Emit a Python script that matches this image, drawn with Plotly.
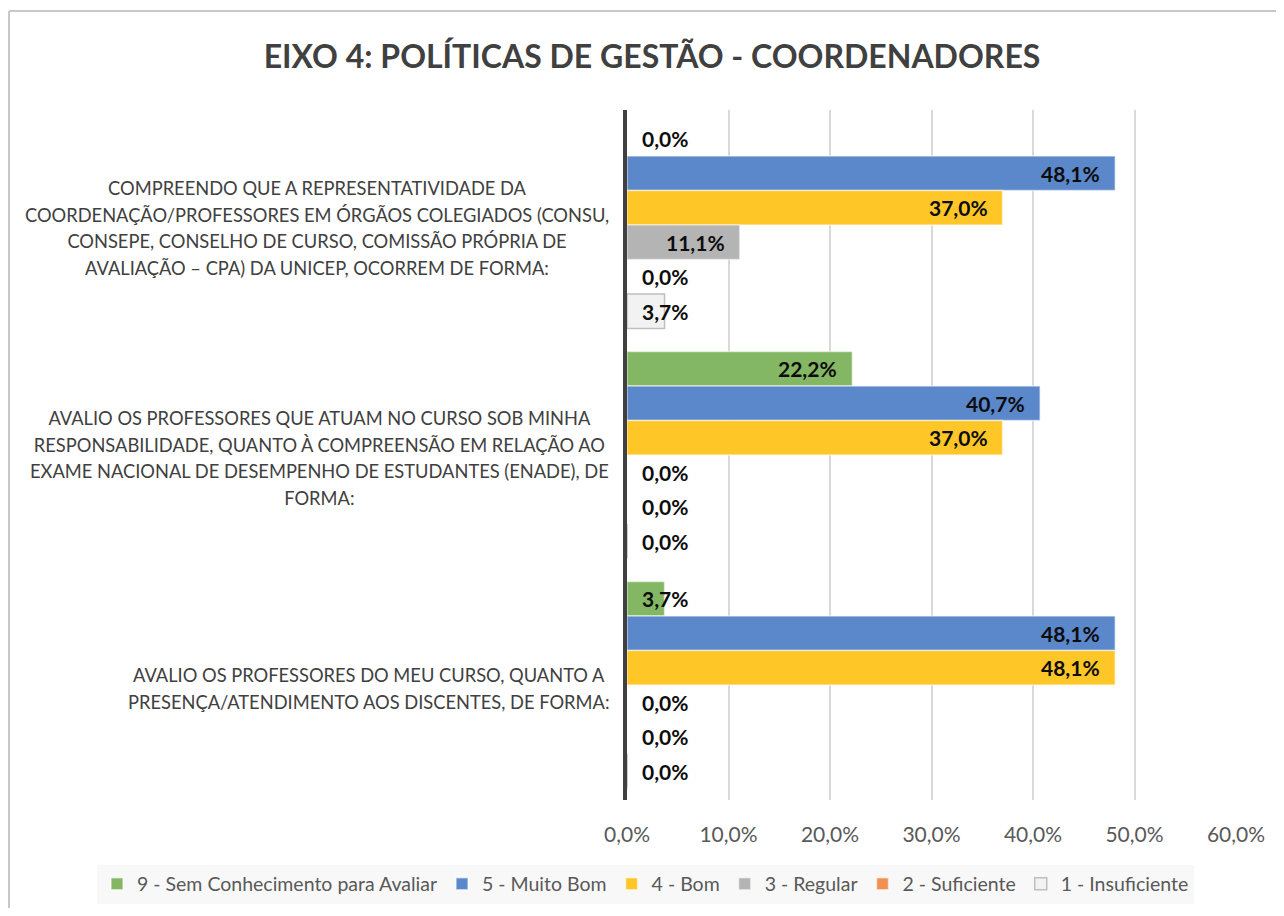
import plotly.graph_objects as go

categories = [
    "COMPREENDO QUE A REPRESENTATIVIDADE DA<br>COORDENAÇÃO/PROFESSORES EM ÓRGÃOS COLEGIADOS (CONSU,<br>CONSEPE, CONSELHO DE CURSO, COMISSÃO PRÓPRIA DE<br>AVALIAÇÃO – CPA) DA UNICEP, OCORREM DE FORMA:",
    "AVALIO OS PROFESSORES QUE ATUAM NO CURSO SOB MINHA<br>RESPONSABILIDADE, QUANTO À COMPREENSÃO EM RELAÇÃO AO<br>EXAME NACIONAL DE DESEMPENHO DE ESTUDANTES (ENADE), DE<br>FORMA:",
    "AVALIO OS PROFESSORES DO MEU CURSO, QUANTO A<br>PRESENÇA/ATENDIMENTO AOS DISCENTES, DE FORMA:",
]

series_names = [
    "9 - Sem Conhecimento para Avaliar",
    "5 - Muito Bom",
    "4 - Bom",
    "3 - Regular",
    "2 - Suficiente",
    "1 - Insuficiente",
]

sem_conhecimento = [0.000, 0.222, 0.037]
muito_bom = [0.481, 0.407, 0.481]
bom = [0.370, 0.370, 0.481]
regular = [0.111, 0.000, 0.000]
suficiente = [0.000, 0.000, 0.000]
insuficiente = [0.037, 0.000, 0.000]

series_values = [sem_conhecimento, muito_bom, bom, regular, suficiente, insuficiente]

x_tick_values = [0.0, 0.1, 0.2, 0.3, 0.4, 0.5, 0.6]

fill_colors = ["#84B763", "#5B87CB", "#FFC627", "#B4B4B4", "#F0914F", "#F2F2F2"]
line_colors = ["rgba(255,255,255,0.55)", "rgba(255,255,255,0.55)", "rgba(255,255,255,0.55)",
               "rgba(255,255,255,0.45)", "rgba(255,255,255,0.55)", "#BFBFBF"]

FONT = "Lato"
BARGAP = 0.1

# The page body has an 8px margin, so the figure is 16px smaller than the window
W, H = 1268, 900
OFF = 8
# plot-area geometry in figure pixels
L, R, T, B = 627 - OFF, 1236 - OFF, 110 - OFF, 800 - OFF
PW, PH = R - L, B - T

fig = go.Figure()
for name, vals, fc, lc in zip(series_names, series_values, fill_colors, line_colors):
    fig.add_trace(go.Bar(
        y=categories, x=vals, name=name, orientation="h",
        marker=dict(color=fc, line=dict(color=lc, width=1.5)),
        hoverinfo="skip",
    ))

annotations = []
n = len(series_values)
slot = (1 - BARGAP) / n
for i, vals in enumerate(series_values):
    for j, v in enumerate(vals):
        yy = j + (i - (n - 1) / 2) * slot
        txt = f"{v * 100:.1f}%".replace(".", ",")
        if v < 0.07:
            annotations.append(dict(x=0, y=yy, xref="x", yref="y", text=txt, showarrow=False,
                                    xanchor="left", xshift=13,
                                    font=dict(family=FONT, size=21, color="#0D0D0D", weight="bold")))
        else:
            annotations.append(dict(x=v, y=yy, xref="x", yref="y", text=txt, showarrow=False,
                                    xanchor="right", xshift=-13,
                                    font=dict(family=FONT, size=21, color="#0D0D0D", weight="bold")))

# category labels: centred multi-line blocks, right edge just left of the axis
for j, cat in enumerate(categories):
    lines = cat.split("<br>")
    txt = "<br>".join(f"<span style='font-size:18.3px'>{ln}</span>" for ln in lines)
    annotations.append(dict(x=0, y=j, xref="x", yref="y", text=txt, showarrow=False,
                            xanchor="right", yanchor="middle", align="center",
                            xshift=-16, yshift=-3,
                            font=dict(family=FONT, size=20.5, color="#404040")))

border = dict(color="#C8C8C8", width=2)
fig.update_layout(
    width=W, height=H,
    margin=dict(l=L, r=W - R, t=T, b=H - B, autoexpand=False),
    paper_bgcolor="white", plot_bgcolor="white",
    separators=",.",
    barmode="group", bargap=BARGAP, bargroupgap=0,
    title=dict(text="<b>EIXO 4: POLÍTICAS DE GESTÃO - COORDENADORES</b>",
               x=(652 - OFF) / W, xref="container", xanchor="center",
               y=1 - (57 - OFF) / H, yref="container", yanchor="middle",
               font=dict(family=FONT, size=32, color="#404040")),
    xaxis=dict(range=[0, 0.6], tickvals=x_tick_values, tickformat=".1%",
               showgrid=True, gridcolor="#D9D9D9", gridwidth=1.5,
               zeroline=False, showline=False, ticks="",
               ticklabelstandoff=20,
               tickfont=dict(family=FONT, size=21, color="#595959")),
    yaxis=dict(type="category", categoryorder="array", categoryarray=categories,
               autorange="reversed", showticklabels=False, showgrid=False,
               zeroline=False, showline=True, linecolor="#404040", linewidth=4, ticks="",
               layer="above traces"),
    legend=dict(orientation="h", xref="paper", yref="paper",
                x=(97 - OFF - L) / PW, xanchor="left", y=(B - (884 - OFF)) / PH, yanchor="middle",
                bgcolor="#F8F8F8", font=dict(family=FONT, size=19.5, color="#595959"),
                traceorder="normal"),
    annotations=annotations,
    shapes=[
        dict(type="line", xref="paper", yref="paper",
             x0=(9 - OFF - L) / PW, x1=(W + 10 - L) / PW,
             y0=(B - (11 - OFF)) / PH, y1=(B - (11 - OFF)) / PH,
             line=border, layer="below"),
        dict(type="line", xref="paper", yref="paper",
             x0=(9 - OFF - L) / PW, x1=(9 - OFF - L) / PW,
             y0=(B - (11 - OFF)) / PH, y1=(B - (H + 10)) / PH,
             line=border, layer="below"),
    ],
    showlegend=True,
)

fig.write_html("out.html")
